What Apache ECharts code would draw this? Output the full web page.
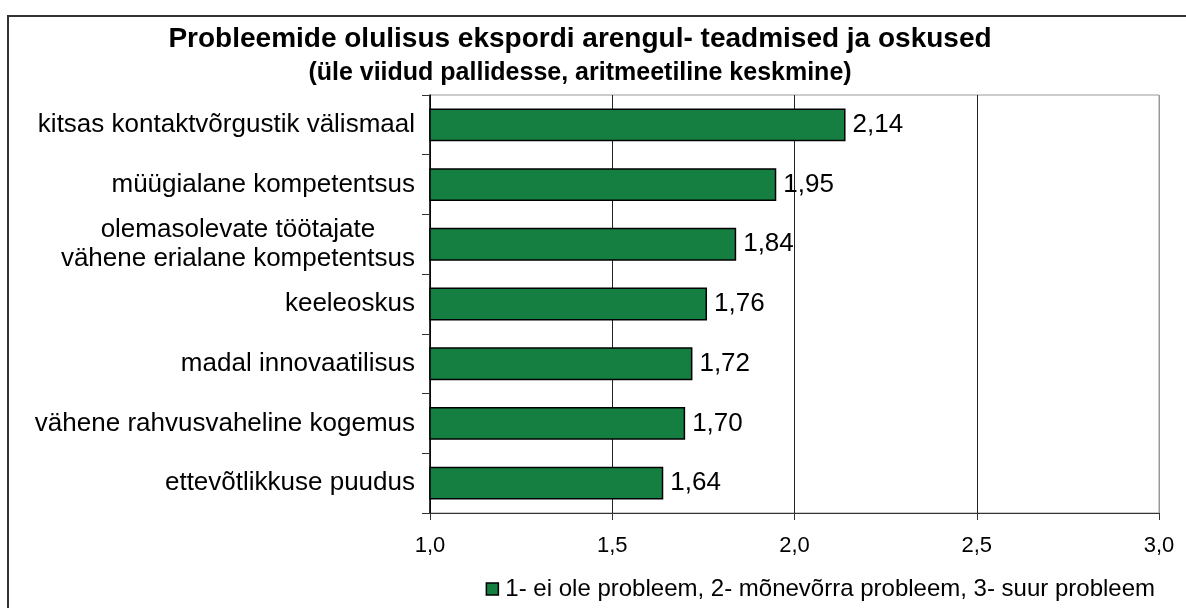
<!DOCTYPE html>
<html>
<head>
<meta charset="utf-8">
<script src="https://cdn.jsdelivr.net/npm/echarts@6/dist/echarts.min.js"></script>
<style>
html, body { margin: 0; padding: 0; background: #fff; }
#main { width: 1186px; height: 608px; }
</style>
</head>
<body>
<div id="main"></div>
<script>
// andmed
var categories = [
  'kitsas kontaktvõrgustik välismaal',
  'müügialane kompetentsus',
  'olemasolevate töötajate\nvähene erialane kompetentsus',
  'keeleoskus',
  'madal innovaatilisus',
  'vähene rahvusvaheline kogemus',
  'ettevõtlikkuse puudus'
];
var values = [2.14, 1.95, 1.84, 1.76, 1.72, 1.70, 1.64];
var xTicks = [1.0, 1.5, 2.0, 2.5, 3.0];
var seriesName = '1- ei ole probleem, 2- mõnevõrra probleem, 3- suur probleem';
var titleText = 'Probleemide olulisus ekspordi arengul- teadmised ja oskused';
var subText = '(üle viidud pallidesse, aritmeetiline keskmine)';

var font = 'Liberation Sans, Arial, sans-serif';
function comma(v, d) {
  return v.toFixed(d).replace('.', ',');
}

var chart = echarts.init(document.getElementById('main'));
var option = {
  animation: false,
  textStyle: { fontFamily: font },
  graphic: [{
    type: 'rect',
    shape: { x: 8, y: 16, width: 1200, height: 620 },
    style: { fill: 'none', stroke: '#333', lineWidth: 2 },
    z: -1
  }],
  title: {
    text: titleText,
    subtext: subText,
    left: 575,
    textAlign: 'center',
    top: 20,
    itemGap: 8,
    textStyle: { fontFamily: font, fontSize: 28, fontWeight: 'bold', color: '#000' },
    subtextStyle: { fontFamily: font, fontSize: 25, fontWeight: 'bold', color: '#000' }
  },
  legend: {
    data: [seriesName],
    right: 26,
    bottom: 2,
    itemWidth: 12,
    itemHeight: 12,
    itemGap: 8,
    icon: 'rect',
    itemStyle: { borderColor: '#000', borderWidth: 1.5 },
    textStyle: { fontFamily: font, fontSize: 24, color: '#000', padding: [0, 0, 0, 2] }
  },
  grid: {
    left: 430, right: 27, top: 95, bottom: 95,
    show: true, borderColor: '#999', borderWidth: 1
  },
  xAxis: {
    type: 'value',
    min: xTicks[0], max: xTicks[xTicks.length - 1], interval: 0.5,
    axisLine: { show: true, lineStyle: { color: '#333', width: 1 } },
    axisTick: { show: true, length: 7, lineStyle: { color: '#333' } },
    axisLabel: {
      show: true,
      margin: 22,
      fontSize: 22,
      color: '#000',
      fontFamily: font,
      formatter: function (v) { return comma(v, 1); }
    },
    splitLine: { show: true, lineStyle: { color: ['#222', '#222', '#222', '#222', '#999'], width: 1 } }
  },
  yAxis: {
    type: 'category',
    data: categories,
    inverse: true,
    axisLine: { show: true, lineStyle: { color: '#000', width: 1.5 } },
    axisTick: { show: true, length: 8, lineStyle: { color: '#333' } },
    axisLabel: {
      margin: 15, fontSize: 26, color: '#000', fontFamily: font, lineHeight: 29,
      formatter: function (v) {
        return v.split('\n').map(function (s) { return '{c|' + s + '}'; }).join('\n');
      },
      rich: { c: { align: 'center', fontSize: 26, fontFamily: font, color: '#000', lineHeight: 29 } }
    }
  },
  series: [{
    name: seriesName,
    type: 'bar',
    data: values,
    barWidth: '55%',
    itemStyle: { color: '#147f40', borderColor: '#000', borderWidth: 1.5 },
    label: {
      show: true, position: 'right', distance: 7,
      fontSize: 26, color: '#000', fontFamily: font,
      formatter: function (p) { return comma(p.value, 2); }
    }
  }]
};
chart.setOption(option);
</script>
</body>
</html>
